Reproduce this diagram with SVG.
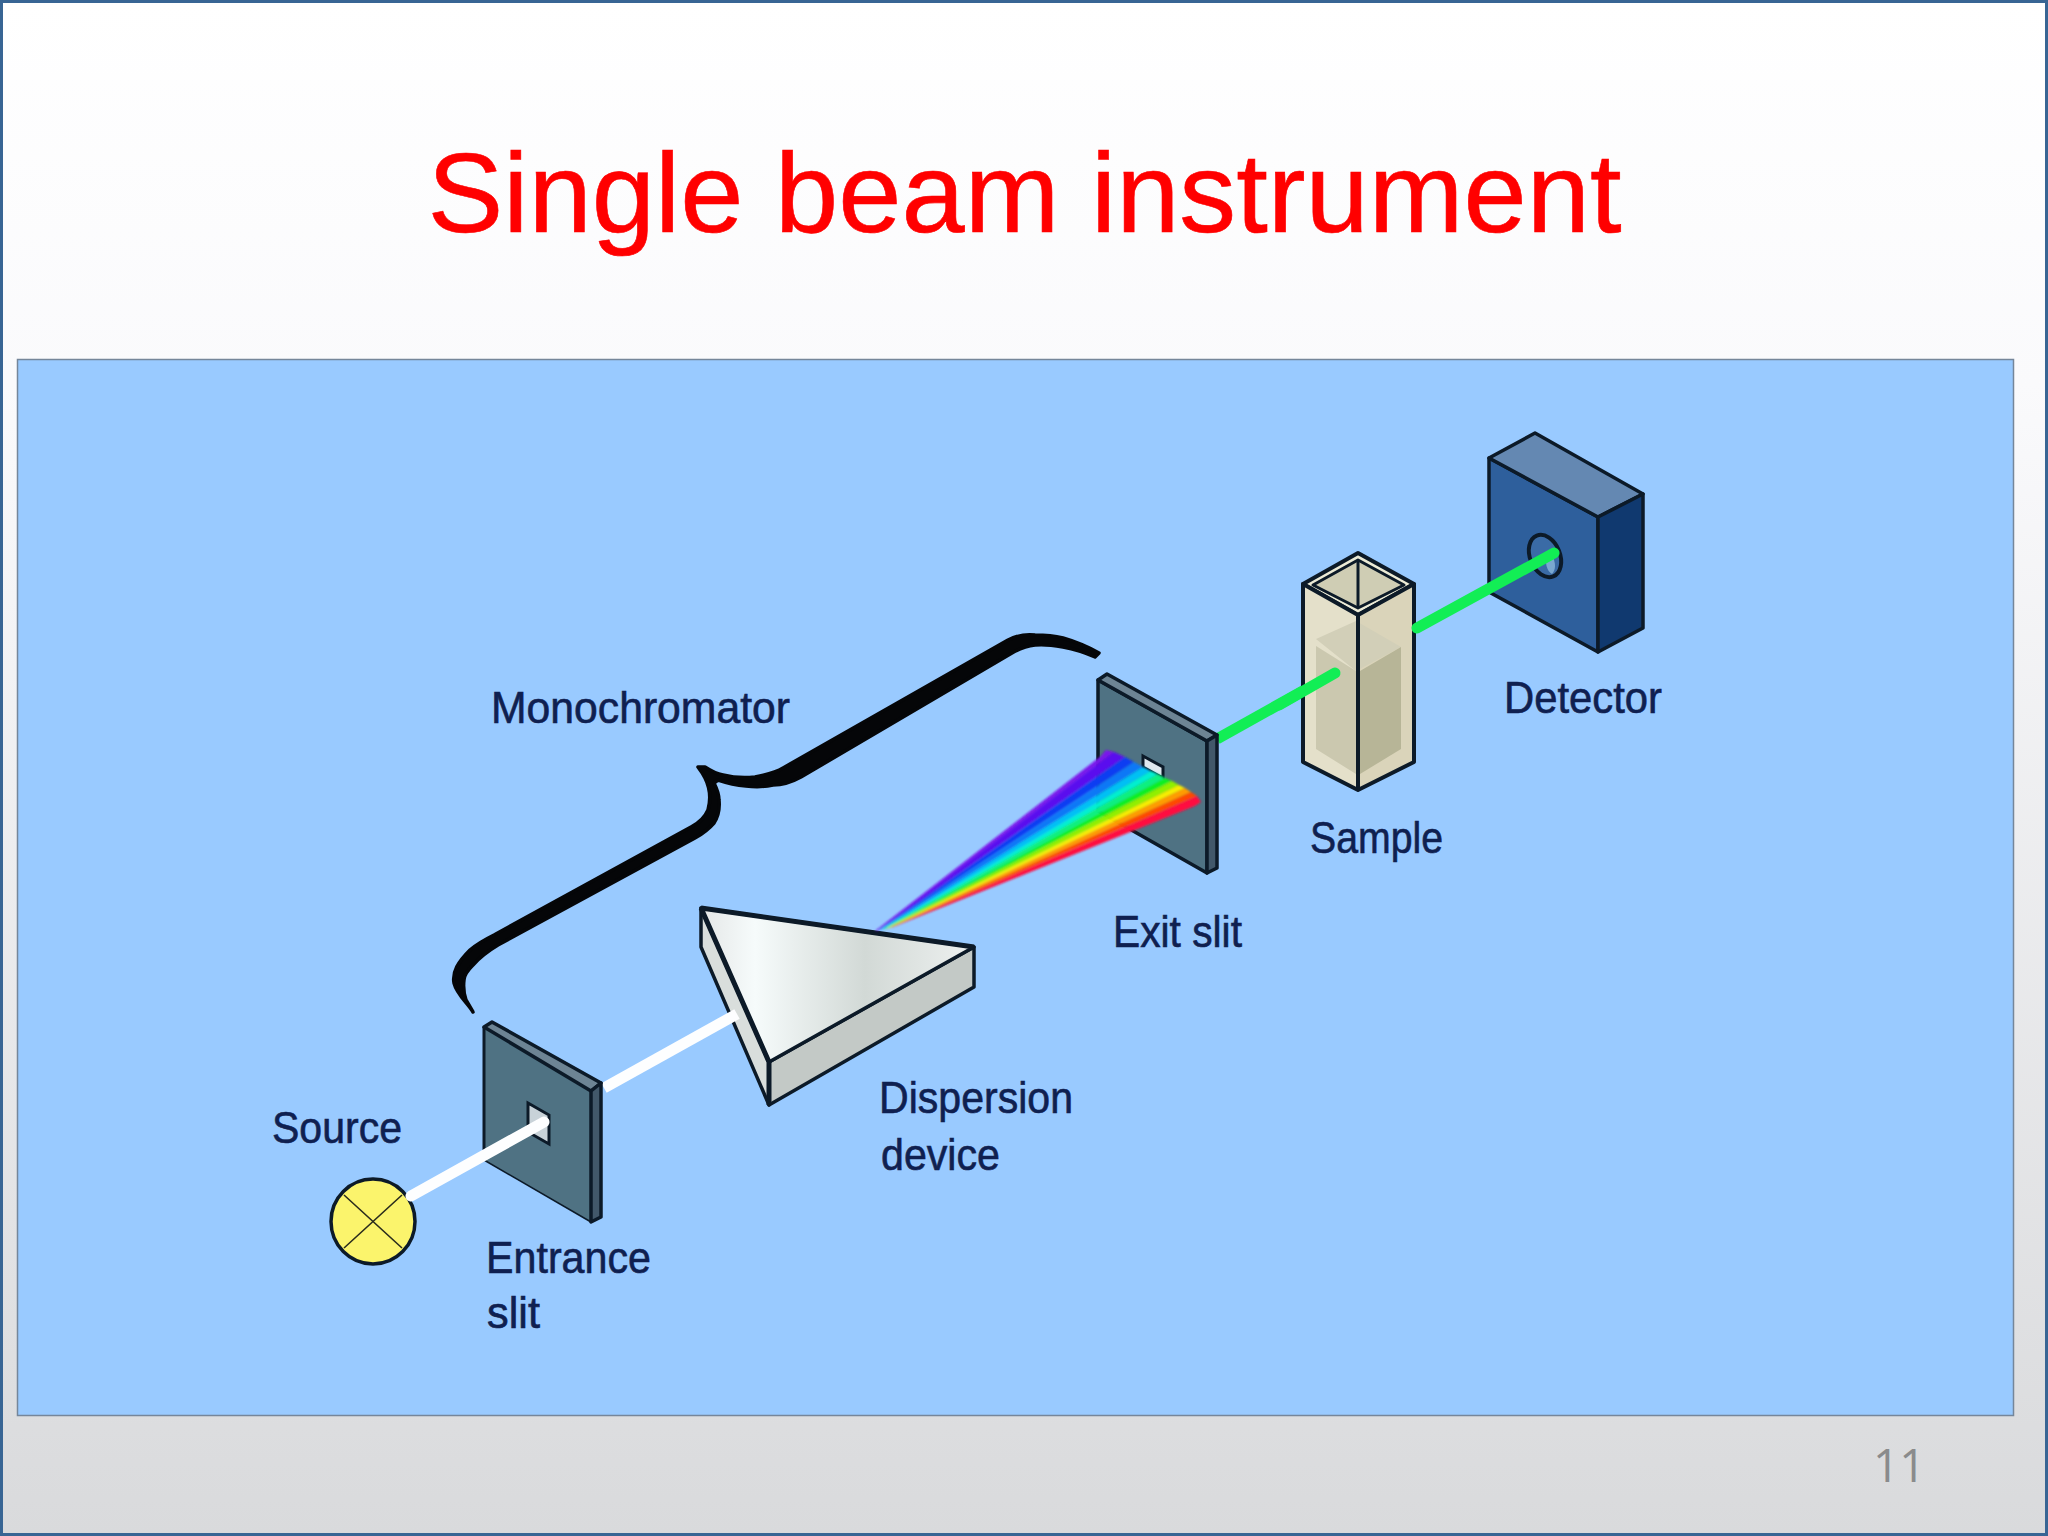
<svg xmlns="http://www.w3.org/2000/svg" width="2048" height="1536" viewBox="0 0 2048 1536">
<defs>
<linearGradient id="bg" x1="0" y1="0" x2="0" y2="1">
<stop offset="0" stop-color="#ffffff"/><stop offset="0.25" stop-color="#fafafc"/><stop offset="1" stop-color="#d9dadc"/>
</linearGradient>
<linearGradient id="prismTop" gradientUnits="userSpaceOnUse" x1="700" y1="0" x2="975" y2="0">
<stop offset="0" stop-color="#e4e7e7"/><stop offset="0.2" stop-color="#f6fbfb"/><stop offset="0.6" stop-color="#d2d9d6"/><stop offset="1" stop-color="#eef1f0"/>
</linearGradient>
<filter id="soft" x="-5%" y="-5%" width="110%" height="110%"><feGaussianBlur stdDeviation="0.9"/></filter>
</defs>
<style>
.lbl{font-family:"Liberation Sans",Arial,sans-serif;font-size:44px;fill:#0f2050;stroke:#0f2050;stroke-width:0.6;}
.ln{stroke:#0c1a28;stroke-width:3.5;stroke-linejoin:round;}
.slitf{fill:#4f7283;}
.slits{fill:#6d8494;}
.slitr{fill:#42586a;}
.ink{stroke:#0c1a28;stroke-linejoin:round;}
.white{stroke:#fdfeff;stroke-width:11;fill:none;}
.green{stroke:#12ee55;stroke-width:11;fill:none;}
</style>
<rect x="1.500" y="1.500" width="2045" height="1533" fill="url(#bg)" stroke="#386594" stroke-width="3"/>
<text x="1024.500" y="232" text-anchor="middle" font-family="'Liberation Sans',Arial,sans-serif" font-size="114" fill="#ff0000" stroke="#ff0000" stroke-width="0.6" textLength="1194" lengthAdjust="spacingAndGlyphs">Single beam instrument</text>
<rect x="17.500" y="359.500" width="1996" height="1056" fill="#99caff" stroke="#75869a" stroke-width="1.500"/>
<g id="prism">
<polygon class="ink" points="701,908 769,1062 769,1105 701,947" fill="#d9dedc" stroke-width="3.500"/>
<polygon class="ink" points="769,1062 974,947 974,987 769,1105" fill="#c3c9c6" stroke-width="3.500"/>
<polygon class="ink" points="701,908 974,947 769,1062" fill="url(#prismTop)" stroke-width="3.500"/>
<path class="ink" d="M701 908 L974 947 M701 908 L769 1062 V1105" fill="none" stroke-width="5"/>
</g>
<g id="connectors">
<path class="white" d="M604 1088 L737 1014"/>
<path class="green" d="M1217 739 L1335 673"/>
</g>
<g id="source">
<ellipse class="ink" cx="373" cy="1221.500" rx="42" ry="42.500" fill="#fbf46c" stroke-width="3.500"/>
<path d="M344 1195 L402 1248 M402 1195 L344 1248" stroke="#2a2c1c" stroke-width="1.600"/>
</g>
<g id="entrance-slit">
<polygon class="slitf" points="484,1027 591,1091 591,1222 484,1160"/>
<path class="ink" d="M484 1160 L591 1222" stroke-width="1.500" fill="none"/>
<path class="ink" d="M484 1160 V1027" stroke-width="3" fill="none"/>
<polygon class="slits ln" points="484,1027 492,1022 601,1083 591,1091"/>
<polygon class="slitr ln" points="591,1091 601,1083 601,1217 591,1222"/>
<polygon points="528,1103 549,1115 549,1144 528,1132" fill="#c8d2d8" stroke="#0c1a28" stroke-width="3"/>
<path class="white" d="M411 1196 L544 1122" stroke-linecap="round"/>
</g>
<g id="exit-slit">
<polygon class="slitf ln" points="1098,680 1207,741 1207,873 1098,811"/>
<polygon class="slits ln" points="1098,680 1107,674 1217,735 1207,741"/>
<polygon class="slitr ln" points="1207,741 1217,735 1217,868 1207,873"/>
<polygon points="1143,756 1163,767 1163,778 1143,767" fill="#dfe8ee" stroke="#0c1a28" stroke-width="3"/>
</g>
<g id="spectrum" filter="url(#soft)">
<polygon points="875,931 1101,756 1106,750 1114,752 876.400,930.700" fill="#7a12ea"/>
<polygon points="876.400,930.700 1114,752 1125,757 877.800,930.400" fill="#5a10ee"/>
<polygon points="877.800,930.400 1125,757 1134,762 879.200,930.100" fill="#0e3cf2"/>
<polygon points="879.200,930.100 1134,762 1143,767 880.500,929.800" fill="#0a78f6"/>
<polygon points="880.500,929.800 1143,767 1151,771 881.900,929.500" fill="#00c0f4"/>
<polygon points="881.900,929.500 1151,771 1158,774 883.300,929.100" fill="#00f0d0"/>
<polygon points="883.300,929.100 1158,774 1165,778 884.700,928.800" fill="#08f080"/>
<polygon points="884.700,928.800 1165,778 1172,781 886.100,928.500" fill="#10f020"/>
<polygon points="886.100,928.500 1172,781 1179,785 887.500,928.200" fill="#90f000"/>
<polygon points="887.500,928.200 1179,785 1185,788 888.900,927.900" fill="#f8ee00"/>
<polygon points="888.900,927.900 1185,788 1191,792 890.200,927.600" fill="#ff9c00"/>
<polygon points="890.200,927.600 1191,792 1197,796 891.600,927.300" fill="#ff4a00"/>
<polygon points="891.600,927.300 1197,796 1201,802 1195,806 893,927" fill="#ff1040"/>
</g>
<g id="sample">
<polygon class="ink" points="1303,584 1358,553 1414,584 1358,615" fill="#ecebd6" stroke-width="4"/>
<polygon class="ink" points="1313,585 1358,560 1404,585 1358,608" fill="#cfcdb4" stroke-width="3"/>
<path d="M1358 560 V608" stroke="#0c1a28" stroke-width="3"/>
<polygon points="1303,584 1358,615 1358,790 1303,762" fill="#e4e0ca"/>
<polygon points="1358,615 1414,584 1414,762 1358,790" fill="#dad4ba"/>
<polygon points="1316,639 1356,621 1401,647 1356,671" fill="#d2cfb8"/>
<polygon points="1316,646 1356,671 1356,774 1316,749" fill="#cbc8af"/>
<polygon points="1360,671 1401,647 1401,749 1360,774" fill="#b7b597"/>
<path class="ink" d="M1303 584 L1358 615 L1414 584 V762 L1358 790 L1303 762 Z M1358 615 V790" fill="none" stroke-width="4"/>
<path class="green" d="M1279 705 L1335 673" stroke-linecap="round"/>
</g>
<g id="detector">
<polygon class="ink" points="1489,458 1598,517 1598,652 1489,592" fill="#2e5f9c" stroke-width="3.500"/>
<polygon class="ink" points="1489,458 1535,433 1643,494 1598,517" fill="#6488b2" stroke-width="3.500"/>
<polygon class="ink" points="1598,517 1643,494 1643,628 1598,652" fill="#10396f" stroke-width="3.500"/>
<ellipse cx="1545" cy="556" rx="15" ry="22" transform="rotate(-22 1545 556)" fill="#3a6ba6" stroke="#0c1a28" stroke-width="4"/>
<path d="M1552 556 C1556 562 1556 570 1552 574 C1548 572 1546 566 1546 562 Z" fill="#7aa8d0"/>
<path class="green" d="M1417 628 L1554 553" stroke-linecap="round"/>
</g>
<g id="monochromator-brace">
<path fill="#050608" stroke="#050608" stroke-width="3.500" stroke-linejoin="round" d="M473 1012 C468 1003 457 995 454 983 C452 972 458 962 470 950 C478 943 486 939 494 935 L691 827 C699 823 705 817 708 810 C711 799 710 788 705 778 C703 774 701 771 698 767 L705 767 C711 771 717 774 723 775 C735 778 746 778 755 777 C765 775 775 773 783 768 L1008 640 C1018 635 1027 634 1035 635 C1046 635 1055 636 1063 638 C1077 642 1088 647 1099 653 L1095 657 C1084 652 1074 649 1063 647 C1052 645 1043 644 1035 645 C1026 646 1019 649 1012 653 L801 777 C792 782 783 785 773 785 C764 787 755 787 746 786 C735 785 727 783 718 780 L714 783 C717 789 719 795 719 800 C720 810 718 817 714 823 C708 830 702 834 695 838 L498 945 C488 951 480 957 473 965 C467 971 464 975 464 980 C463 988 464 994 466 1000 Z"/>
</g>
<g id="labels">
<text class="lbl" x="491" y="723" textLength="299" lengthAdjust="spacingAndGlyphs">Monochromator</text>
<text class="lbl" x="272" y="1143" textLength="130" lengthAdjust="spacingAndGlyphs">Source</text>
<text class="lbl" x="486" y="1273" textLength="165" lengthAdjust="spacingAndGlyphs">Entrance</text>
<text class="lbl" x="487" y="1328" textLength="53" lengthAdjust="spacingAndGlyphs">slit</text>
<text class="lbl" x="879" y="1113" textLength="194" lengthAdjust="spacingAndGlyphs">Dispersion</text>
<text class="lbl" x="881" y="1170" textLength="119" lengthAdjust="spacingAndGlyphs">device</text>
<text class="lbl" x="1113" y="947" textLength="129" lengthAdjust="spacingAndGlyphs">Exit slit</text>
<text class="lbl" x="1310" y="853" textLength="133" lengthAdjust="spacingAndGlyphs">Sample</text>
<text class="lbl" x="1504" y="713" textLength="158" lengthAdjust="spacingAndGlyphs">Detector</text>
</g>
<text x="1873" y="1482" font-family="'Open Sans','Liberation Sans',sans-serif" font-size="46" fill="#8a8b8c">11</text>
</svg>
